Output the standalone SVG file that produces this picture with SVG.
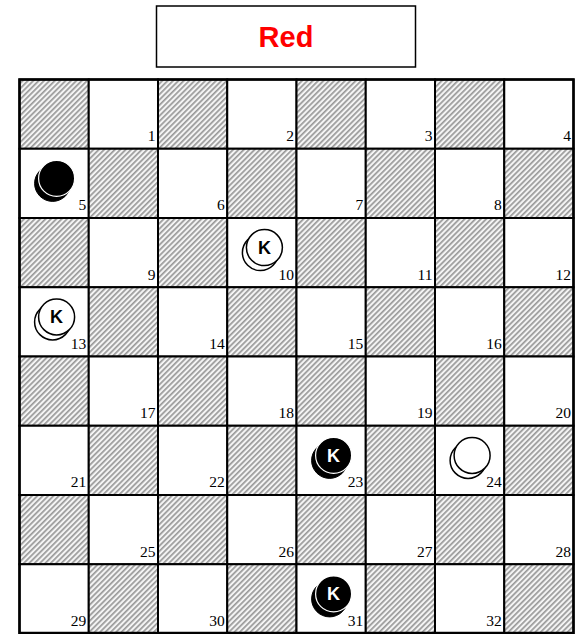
<svg xmlns="http://www.w3.org/2000/svg" width="576" height="634" viewBox="0 0 576 634">
<defs>
<pattern id="hatch" patternUnits="userSpaceOnUse" width="3.8" height="10" patternTransform="rotate(45)">
<rect x="0" y="0" width="3.8" height="10" fill="#f4f4f4"/>
<rect x="0" y="0" width="1.7" height="10" fill="#9a9a9a"/>
</pattern>
</defs>
<style>
.dark{fill:url(#hatch);stroke:#000;stroke-width:2}
.light{fill:#fff;stroke:#000;stroke-width:2}
.num{font-family:"Liberation Serif",serif;font-size:15.5px;fill:#000;text-anchor:end}
.wp{fill:#fff;stroke:#000;stroke-width:1.5}
.bpb{fill:#000;stroke:#000;stroke-width:1}
.bpf{fill:#000;stroke:#fff;stroke-width:1.2}
.kw{font-family:"Liberation Sans",Arial,sans-serif;font-weight:bold;font-size:18px;fill:#000;text-anchor:middle}
.kb{font-family:"Liberation Sans",Arial,sans-serif;font-weight:bold;font-size:18px;fill:#fff;text-anchor:middle}
</style>
<rect width="576" height="634" fill="#fff"/>
<g id="title">
<rect x="156.5" y="6" width="259" height="61" fill="#fff" stroke="#000" stroke-width="1.5"/>
<text x="286" y="47" font-family="Liberation Sans,Arial,sans-serif" font-weight="bold" font-size="29" fill="#ff0000" text-anchor="middle">Red</text>
</g>
<g id="board">
<rect class="dark" x="19.5" y="79.5" width="69.25" height="69.25"/>
<rect class="light" x="88.75" y="79.5" width="69.25" height="69.25"/>
<rect class="dark" x="158" y="79.5" width="69.25" height="69.25"/>
<rect class="light" x="227.25" y="79.5" width="69.25" height="69.25"/>
<rect class="dark" x="296.5" y="79.5" width="69.25" height="69.25"/>
<rect class="light" x="365.75" y="79.5" width="69.25" height="69.25"/>
<rect class="dark" x="435" y="79.5" width="69.25" height="69.25"/>
<rect class="light" x="504.25" y="79.5" width="69.25" height="69.25"/>
<rect class="light" x="19.5" y="148.75" width="69.25" height="69.25"/>
<rect class="dark" x="88.75" y="148.75" width="69.25" height="69.25"/>
<rect class="light" x="158" y="148.75" width="69.25" height="69.25"/>
<rect class="dark" x="227.25" y="148.75" width="69.25" height="69.25"/>
<rect class="light" x="296.5" y="148.75" width="69.25" height="69.25"/>
<rect class="dark" x="365.75" y="148.75" width="69.25" height="69.25"/>
<rect class="light" x="435" y="148.75" width="69.25" height="69.25"/>
<rect class="dark" x="504.25" y="148.75" width="69.25" height="69.25"/>
<rect class="dark" x="19.5" y="218" width="69.25" height="69.25"/>
<rect class="light" x="88.75" y="218" width="69.25" height="69.25"/>
<rect class="dark" x="158" y="218" width="69.25" height="69.25"/>
<rect class="light" x="227.25" y="218" width="69.25" height="69.25"/>
<rect class="dark" x="296.5" y="218" width="69.25" height="69.25"/>
<rect class="light" x="365.75" y="218" width="69.25" height="69.25"/>
<rect class="dark" x="435" y="218" width="69.25" height="69.25"/>
<rect class="light" x="504.25" y="218" width="69.25" height="69.25"/>
<rect class="light" x="19.5" y="287.25" width="69.25" height="69.25"/>
<rect class="dark" x="88.75" y="287.25" width="69.25" height="69.25"/>
<rect class="light" x="158" y="287.25" width="69.25" height="69.25"/>
<rect class="dark" x="227.25" y="287.25" width="69.25" height="69.25"/>
<rect class="light" x="296.5" y="287.25" width="69.25" height="69.25"/>
<rect class="dark" x="365.75" y="287.25" width="69.25" height="69.25"/>
<rect class="light" x="435" y="287.25" width="69.25" height="69.25"/>
<rect class="dark" x="504.25" y="287.25" width="69.25" height="69.25"/>
<rect class="dark" x="19.5" y="356.5" width="69.25" height="69.25"/>
<rect class="light" x="88.75" y="356.5" width="69.25" height="69.25"/>
<rect class="dark" x="158" y="356.5" width="69.25" height="69.25"/>
<rect class="light" x="227.25" y="356.5" width="69.25" height="69.25"/>
<rect class="dark" x="296.5" y="356.5" width="69.25" height="69.25"/>
<rect class="light" x="365.75" y="356.5" width="69.25" height="69.25"/>
<rect class="dark" x="435" y="356.5" width="69.25" height="69.25"/>
<rect class="light" x="504.25" y="356.5" width="69.25" height="69.25"/>
<rect class="light" x="19.5" y="425.75" width="69.25" height="69.25"/>
<rect class="dark" x="88.75" y="425.75" width="69.25" height="69.25"/>
<rect class="light" x="158" y="425.75" width="69.25" height="69.25"/>
<rect class="dark" x="227.25" y="425.75" width="69.25" height="69.25"/>
<rect class="light" x="296.5" y="425.75" width="69.25" height="69.25"/>
<rect class="dark" x="365.75" y="425.75" width="69.25" height="69.25"/>
<rect class="light" x="435" y="425.75" width="69.25" height="69.25"/>
<rect class="dark" x="504.25" y="425.75" width="69.25" height="69.25"/>
<rect class="dark" x="19.5" y="495" width="69.25" height="69.25"/>
<rect class="light" x="88.75" y="495" width="69.25" height="69.25"/>
<rect class="dark" x="158" y="495" width="69.25" height="69.25"/>
<rect class="light" x="227.25" y="495" width="69.25" height="69.25"/>
<rect class="dark" x="296.5" y="495" width="69.25" height="69.25"/>
<rect class="light" x="365.75" y="495" width="69.25" height="69.25"/>
<rect class="dark" x="435" y="495" width="69.25" height="69.25"/>
<rect class="light" x="504.25" y="495" width="69.25" height="69.25"/>
<rect class="light" x="19.5" y="564.25" width="69.25" height="69.25"/>
<rect class="dark" x="88.75" y="564.25" width="69.25" height="69.25"/>
<rect class="light" x="158" y="564.25" width="69.25" height="69.25"/>
<rect class="dark" x="227.25" y="564.25" width="69.25" height="69.25"/>
<rect class="light" x="296.5" y="564.25" width="69.25" height="69.25"/>
<rect class="dark" x="365.75" y="564.25" width="69.25" height="69.25"/>
<rect class="light" x="435" y="564.25" width="69.25" height="69.25"/>
<rect class="dark" x="504.25" y="564.25" width="69.25" height="69.25"/>
<rect x="19.5" y="79.5" width="554" height="553.5" fill="none" stroke="#000" stroke-width="2.5"/>
</g>
<g id="numbers">
<text class="num" x="155.5" y="141">1</text>
<text class="num" x="294" y="141">2</text>
<text class="num" x="432.5" y="141">3</text>
<text class="num" x="571" y="141">4</text>
<text class="num" x="86.25" y="210">5</text>
<text class="num" x="224.75" y="210">6</text>
<text class="num" x="363.25" y="210">7</text>
<text class="num" x="501.75" y="210">8</text>
<text class="num" x="155.5" y="279.5">9</text>
<text class="num" x="294" y="279.5">10</text>
<text class="num" x="432.5" y="279.5">11</text>
<text class="num" x="571" y="279.5">12</text>
<text class="num" x="86.25" y="348.5">13</text>
<text class="num" x="224.75" y="348.5">14</text>
<text class="num" x="363.25" y="348.5">15</text>
<text class="num" x="501.75" y="348.5">16</text>
<text class="num" x="155.5" y="418">17</text>
<text class="num" x="294" y="418">18</text>
<text class="num" x="432.5" y="418">19</text>
<text class="num" x="571" y="418">20</text>
<text class="num" x="86.25" y="487">21</text>
<text class="num" x="224.75" y="487">22</text>
<text class="num" x="363.25" y="487">23</text>
<text class="num" x="501.75" y="487">24</text>
<text class="num" x="155.5" y="556.5">25</text>
<text class="num" x="294" y="556.5">26</text>
<text class="num" x="432.5" y="556.5">27</text>
<text class="num" x="571" y="556.5">28</text>
<text class="num" x="86.25" y="625.5">29</text>
<text class="num" x="224.75" y="625.5">30</text>
<text class="num" x="363.25" y="625.5">31</text>
<text class="num" x="501.75" y="625.5">32</text>
</g>
<g id="piece-5">
<circle class="bpb" cx="52.6" cy="183.4" r="18"/>
<circle class="bpf" cx="56.6" cy="178.4" r="18"/>
</g>
<g id="piece-10">
<circle class="wp" cx="260.4" cy="252.6" r="18"/>
<circle class="wp" cx="264.4" cy="247.6" r="18"/>
<text class="kw" x="264.4" y="254">K</text>
</g>
<g id="piece-13">
<circle class="wp" cx="52.6" cy="321.9" r="18"/>
<circle class="wp" cx="56.6" cy="316.9" r="18"/>
<text class="kw" x="56.6" y="323.3">K</text>
</g>
<g id="piece-23">
<circle class="bpb" cx="329.6" cy="460.4" r="18"/>
<circle class="bpf" cx="333.6" cy="455.4" r="18"/>
<text class="kb" x="333.6" y="461.8">K</text>
</g>
<g id="piece-24">
<circle class="wp" cx="468.1" cy="460.4" r="18"/>
<circle class="wp" cx="472.1" cy="455.4" r="18"/>
</g>
<g id="piece-31">
<circle class="bpb" cx="329.6" cy="598.9" r="18"/>
<circle class="bpf" cx="333.6" cy="593.9" r="18"/>
<text class="kb" x="333.6" y="600.3">K</text>
</g>
</svg>
